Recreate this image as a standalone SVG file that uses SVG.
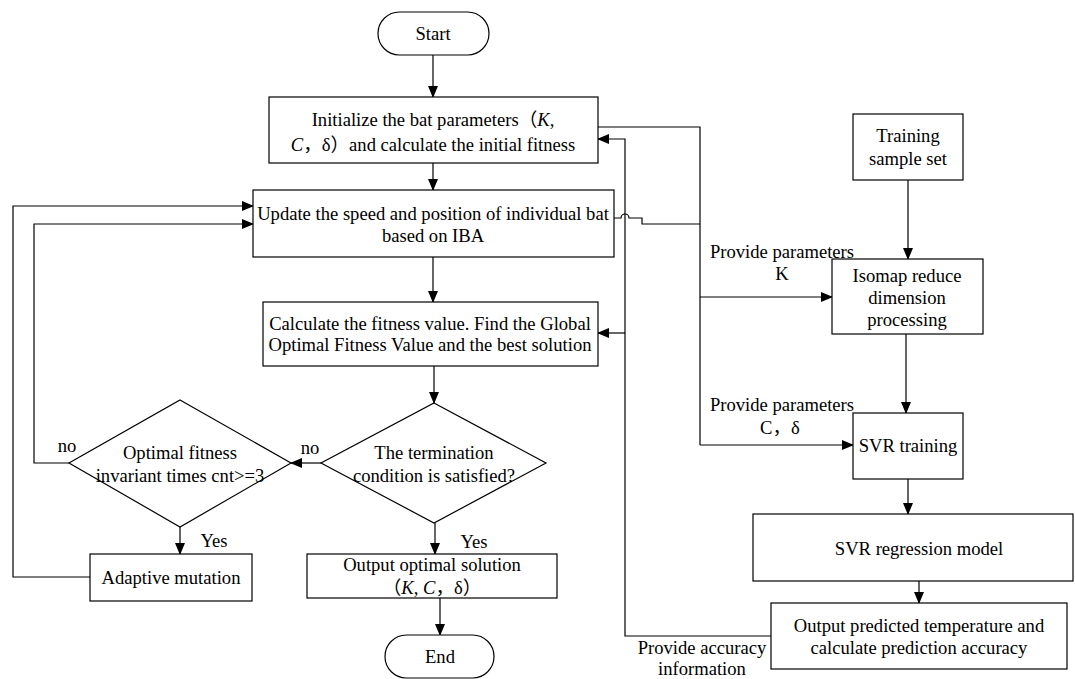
<svg xmlns="http://www.w3.org/2000/svg" width="1075" height="679" viewBox="0 0 1075 679">
<defs>
<marker id="ah" markerUnits="userSpaceOnUse" markerWidth="12" markerHeight="10" refX="11" refY="5" orient="auto">
<path d="M0,0 L12,5 L0,10 Z" fill="#000"/>
</marker>
<style>
.b{fill:#fff;stroke:#000;stroke-width:1.2}
.c{fill:none;stroke:#000;stroke-width:1.2}
.a{fill:none;stroke:#000;stroke-width:1.2;marker-end:url(#ah)}
text{font-family:'Liberation Serif','Times New Roman','DejaVu Serif','Noto Sans CJK SC',serif;font-size:18.6px;fill:#000;text-anchor:middle;dominant-baseline:central}
</style>
</defs>
<rect width="1075" height="679" fill="#fff"/>
<g id="connectors">
<line class="a" x1="433" y1="55" x2="433" y2="97"/>
<line class="a" x1="433" y1="163" x2="433" y2="190"/>
<line class="a" x1="433" y1="257" x2="433" y2="302"/>
<line class="a" x1="434" y1="366" x2="434" y2="403"/>
<line class="a" x1="321" y1="463" x2="291" y2="463"/>
<line class="a" x1="180" y1="527" x2="180" y2="554"/>
<polyline class="a" points="90,577 13,577 13,206 253,206"/>
<polyline class="a" points="69,463 34,463 34,224 253,224"/>
<line class="a" x1="435" y1="523" x2="435" y2="554"/>
<line class="a" x1="440" y1="598" x2="440" y2="635"/>
<polyline class="c" points="598,127 700,127 700,445"/>
<line class="a" x1="700" y1="297" x2="832" y2="297"/>
<line class="a" x1="700" y1="445" x2="853" y2="445"/>
<path class="c" d="M614,218 H621 A4,4 0 0 1 629,218 H642 V224 H700"/>
<polyline class="a" points="771,636 625,636 625,139 598,139"/>
<line class="a" x1="625" y1="333" x2="598" y2="333"/>
<line class="a" x1="908" y1="180" x2="908" y2="259"/>
<line class="a" x1="906" y1="334" x2="906" y2="413"/>
<line class="a" x1="908" y1="479" x2="908" y2="514"/>
<line class="a" x1="919" y1="581" x2="919" y2="603"/>
</g>
<g id="start"><rect class="b" x="378" y="12" width="111" height="43" rx="21.5"/><text x="433" y="33">Start</text></g>
<g id="init"><rect class="b" x="269" y="97" width="329" height="66"/>
<text x="433" y="119">Initialize the bat parameters（<tspan font-style="italic">K</tspan>,</text>
<text x="433" y="144"><tspan font-style="italic">C</tspan>，δ）and calculate the  initial fitness</text></g>
<g id="update"><rect class="b" x="253" y="190" width="361" height="67"/>
<text x="433" y="213">Update the speed and position of individual bat</text>
<text x="433" y="235">based on IBA</text></g>
<g id="calc"><rect class="b" x="263" y="302" width="335" height="64"/>
<text x="430" y="323">Calculate the fitness value. Find the Global</text>
<text x="430" y="344">Optimal Fitness Value and the best solution</text></g>
<g id="term"><polygon class="b" points="434,403 546,463 434,523 321,463"/>
<text x="434" y="452">The termination</text>
<text x="434" y="475">condition is satisfied?</text></g>
<g id="inv"><polygon class="b" points="180,400 291,463 180,527 69,463"/>
<text x="180" y="452">Optimal fitness</text>
<text x="180" y="475">invariant times cnt&gt;=3</text></g>
<g id="adaptive"><rect class="b" x="90" y="554" width="162" height="47"/><text x="171" y="577">Adaptive mutation</text></g>
<g id="outopt"><rect class="b" x="307" y="554" width="250" height="44"/>
<text x="432" y="564">Output optimal solution</text>
<text x="432" y="587">（<tspan font-style="italic">K</tspan>, <tspan font-style="italic">C</tspan>，δ）</text></g>
<g id="end"><rect class="b" x="385" y="635" width="109" height="43" rx="21.5"/><text x="440" y="656">End</text></g>
<g id="training"><rect class="b" x="853" y="114" width="110" height="66"/>
<text x="908" y="135">Training</text><text x="908" y="158">sample set</text></g>
<g id="isomap"><rect class="b" x="832" y="259" width="151" height="75"/>
<text x="907" y="275">Isomap reduce</text><text x="907" y="297">dimension</text><text x="907" y="319">processing</text></g>
<g id="svrtrain"><rect class="b" x="853" y="413" width="110" height="66"/><text x="908" y="445">SVR training</text></g>
<g id="svrmodel"><rect class="b" x="753" y="514" width="320" height="67"/><text x="919" y="548">SVR regression model</text></g>
<g id="outpred"><rect class="b" x="771" y="603" width="296" height="66"/>
<text x="919" y="625">Output predicted temperature and</text>
<text x="919" y="647">calculate prediction accuracy</text></g>
<g id="labels">
<text x="782" y="251">Provide parameters</text><text x="782" y="273">K</text>
<text x="782" y="404">Provide parameters</text><text x="780" y="427">C，δ</text>
<text x="702" y="647">Provide accuracy</text><text x="702" y="668">information</text>
<text x="310" y="447">no</text><text x="67" y="445">no</text>
<text x="214" y="540">Yes</text><text x="474" y="541">Yes</text>
</g>
</svg>
